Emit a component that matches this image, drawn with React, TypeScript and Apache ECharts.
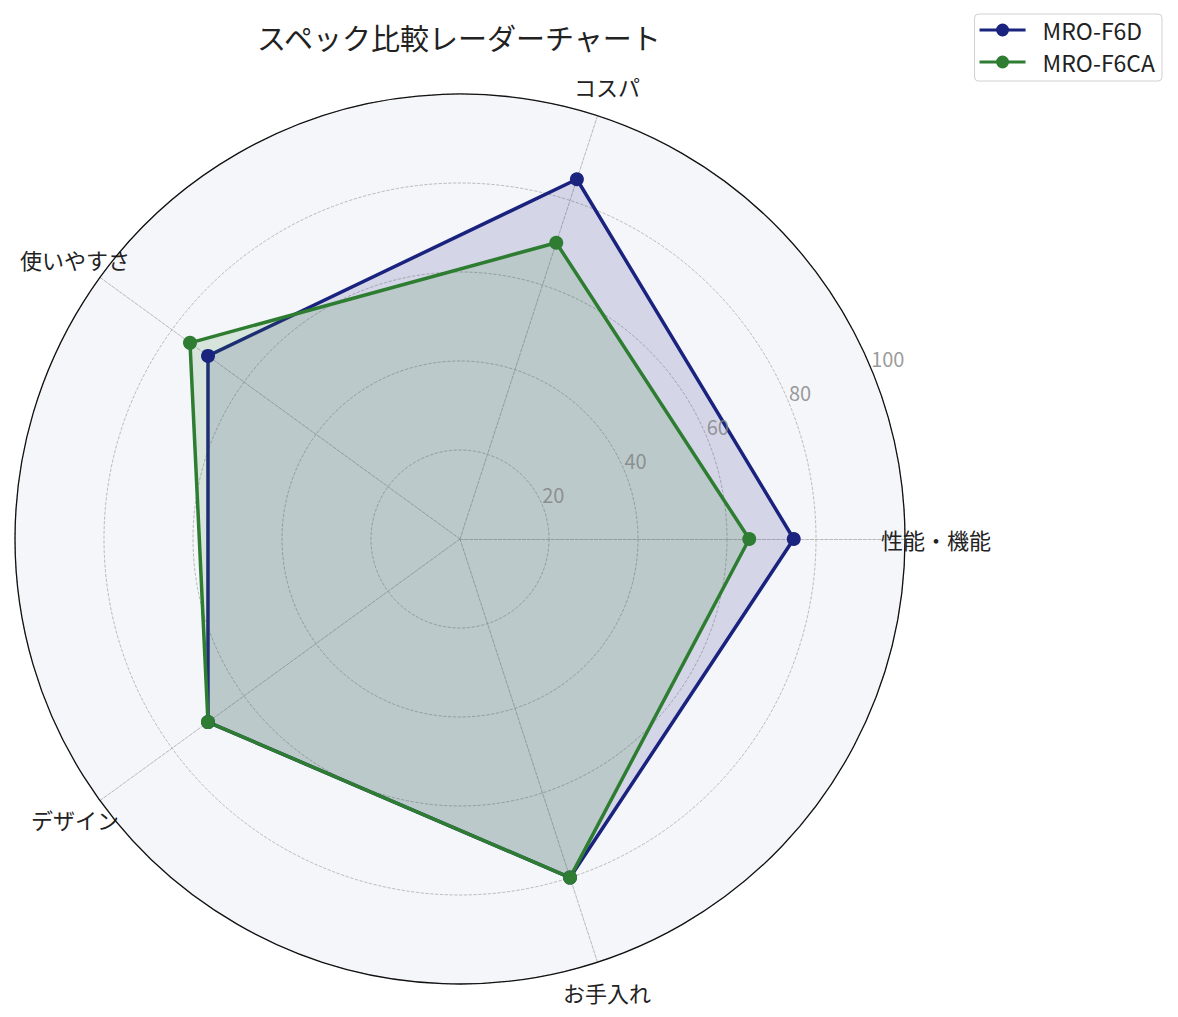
import * as echarts from 'echarts';
import { useEffect, useRef } from 'react';

const indicators = ['性能・機能', 'コスパ', '使いやすさ', 'デザイン', 'お手入れ'];
const seriesNames = ['MRO-F6D', 'MRO-F6CA'];
const f6dValues = [75, 85, 70, 70, 80];
const f6caValues = [65, 70, 75, 70, 80];
const radialTicks = [20, 40, 60, 80, 100];
const tickAngle = 22.5;

const FONT = '"Noto Sans CJK JP", "Noto Sans", sans-serif';
const BLUE = '#1a237e';
const GREEN = '#2e7d32';
const LEGEND_ICON =
    'path://M0,5.5 L46,5.5 L46,8.5 L0,8.5 Z M16.5,7 A6.5,6.5 0 1,1 29.5,7 A6.5,6.5 0 1,1 16.5,7 Z';

const App = () => {
    const chartRef = useRef<HTMLDivElement>(null);

    useEffect(() => {
        document.body.style.margin = '0';
        if (!chartRef.current) return;
        const chart = echarts.init(chartRef.current, null, { renderer: 'svg' });

        chart.setOption({
            animation: false,
            textStyle: { fontFamily: FONT },
            title: {
                text: 'スペック比較レーダーチャート',
                left: 257,
                top: 22,
                padding: 0,
                textStyle: { fontSize: 29, fontWeight: 'normal', color: '#222', fontFamily: FONT },
            },
            legend: {
                orient: 'vertical',
                right: 16,
                top: 14,
                data: seriesNames,
                icon: LEGEND_ICON,
                itemWidth: 46,
                itemHeight: 14,
                itemGap: 8,
                padding: [4, 7, 7, 5],
                borderColor: '#d0d0d0',
                borderWidth: 1,
                borderRadius: 4,
                textStyle: { fontSize: 23, lineHeight: 24, color: '#222', padding: [0, 0, 0, 12], fontFamily: FONT },
            },
            radar: {
                center: [460, 539],
                radius: 445,
                startAngle: 0,
                shape: 'circle',
                splitNumber: 5,
                indicator: indicators.map((name) => ({ name, min: 0, max: 100 })),
                nameGap: 31,
                axisName: {
                    color: '#222',
                    fontSize: 22,
                    fontFamily: FONT,
                    align: 'center',
                    verticalAlign: 'middle',
                },
                axisLine: { lineStyle: { color: '#aaa', type: 'dashed', width: 0.8 } },
                axisTick: { show: false },
                axisLabel: { show: false },
                splitLine: { lineStyle: { color: '#aaa', type: 'dashed', width: 0.8 } },
                splitArea: { show: true, areaStyle: { color: ['#f5f6fa'] } },
            },
            polar: { center: [460, 539], radius: 445 },
            angleAxis: {
                type: 'value',
                min: 0,
                max: 360,
                startAngle: 0,
                clockwise: false,
                z: 10,
                axisLine: { show: true, lineStyle: { color: '#111', width: 1.3 } },
                axisTick: { show: false },
                axisLabel: { show: false },
                splitLine: { show: false },
            },
            radiusAxis: {
                min: 0,
                max: 100,
                axisLine: { show: false },
                axisTick: { show: false },
                axisLabel: { show: false },
                splitLine: { show: false },
            },
            series: [
                {
                    name: seriesNames[0],
                    type: 'radar',
                    color: BLUE,
                    symbol: 'circle',
                    symbolSize: 14,
                    lineStyle: { width: 3.5 },
                    areaStyle: { opacity: 0.15 },
                    data: [{ name: seriesNames[0], value: f6dValues }],
                },
                {
                    name: seriesNames[1],
                    type: 'radar',
                    color: GREEN,
                    symbol: 'circle',
                    symbolSize: 14,
                    lineStyle: { width: 3.5 },
                    areaStyle: { opacity: 0.15 },
                    data: [{ name: seriesNames[1], value: f6caValues }],
                },
                {
                    type: 'scatter',
                    coordinateSystem: 'polar',
                    symbolSize: 0,
                    silent: true,
                    z: 5,
                    data: radialTicks.map((t) => [t, tickAngle]),
                    label: {
                        show: true,
                        position: [0, 0],
                        align: 'left',
                        verticalAlign: 'bottom',
                        color: '#808080',
                        fontSize: 20,
                        fontFamily: FONT,
                        formatter: (p: any) => String(p.value[0]),
                    },
                },
            ],
        });

        const onResize = () => chart.resize();
        window.addEventListener('resize', onResize);
        return () => {
            window.removeEventListener('resize', onResize);
            chart.dispose();
        };
    }, []);

    return <div ref={chartRef} style={{ width: 1178, height: 1017 }} />;
};

export default App;
